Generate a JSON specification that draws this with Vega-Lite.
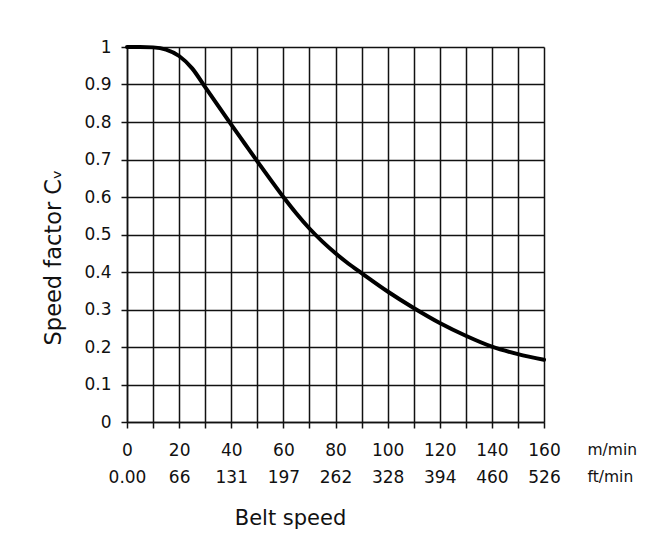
{
  "$schema": "https://vega.github.io/schema/vega-lite/v6.json",
  "autosize": "none",
  "width": 417,
  "height": 375,
  "padding": {"left": 127, "top": 47, "right": 118, "bottom": 124},
  "background": "white",
  "config": {
    "view": {"stroke": null},
    "font": "DejaVu Sans",
    "axis": {"labelFont": "DejaVu Sans", "titleFont": "DejaVu Sans", "labelColor": "#111", "titleColor": "#111"}
  },
  "title": {"text": "Belt speed", "orient": "bottom", "anchor": "middle", "dx": -45, "offset": 22, "fontSize": 21, "fontWeight": "normal", "color": "#111", "font": "DejaVu Sans"},
  "data": {"values": [
    {"speed": 0, "cv": 1.0},
    {"speed": 5, "cv": 1.0},
    {"speed": 10, "cv": 0.999},
    {"speed": 15, "cv": 0.993},
    {"speed": 20, "cv": 0.976},
    {"speed": 25, "cv": 0.943},
    {"speed": 30, "cv": 0.893},
    {"speed": 35, "cv": 0.843},
    {"speed": 40, "cv": 0.793},
    {"speed": 45, "cv": 0.744},
    {"speed": 50, "cv": 0.695},
    {"speed": 55, "cv": 0.647},
    {"speed": 60, "cv": 0.6},
    {"speed": 65, "cv": 0.556},
    {"speed": 70, "cv": 0.516},
    {"speed": 75, "cv": 0.481},
    {"speed": 80, "cv": 0.45},
    {"speed": 85, "cv": 0.422},
    {"speed": 90, "cv": 0.397},
    {"speed": 100, "cv": 0.348},
    {"speed": 110, "cv": 0.304},
    {"speed": 120, "cv": 0.264},
    {"speed": 130, "cv": 0.23},
    {"speed": 140, "cv": 0.201},
    {"speed": 150, "cv": 0.181},
    {"speed": 160, "cv": 0.166}
  ]},
  "mark": {"type": "line", "color": "black", "strokeWidth": 4, "interpolate": "monotone", "strokeCap": "round"},
  "encoding": {
    "x": {
      "field": "speed", "type": "quantitative",
      "scale": {"domain": [0, 160], "nice": false, "zero": false},
      "axis": {
        "values": [0, 10, 20, 30, 40, 50, 60, 70, 80, 90, 100, 110, 120, 130, 140, 150, 160],
        "labelExpr": "datum.value % 20 == 0 ? [datum.value + '', ['0.00','66','131','197','262','328','394','460','526'][datum.value / 20]] : ''",
        "labelFontSize": 17,
        "labelLineHeight": 27.5,
        "labelPadding": 14,
        "labelFlush": false,
        "labelOverlap": false,
        "tickSize": 6,
        "tickColor": "#111",
        "tickWidth": 1.5,
        "domainColor": "#111",
        "domainWidth": 1.5,
        "grid": true,
        "gridColor": "#111",
        "gridWidth": 1.5,
        "gridOpacity": 1,
        "title": ["m/min", "ft/min"],
        "titleFontSize": 15.5,
        "titleFontWeight": "normal",
        "titleLineHeight": 27.5,
        "titleAlign": "left",
        "titleBaseline": "top",
        "titleAnchor": null,
        "titleX": 460,
        "titleY": 20
      }
    },
    "y": {
      "field": "cv", "type": "quantitative",
      "scale": {"domain": [0, 1], "nice": false},
      "axis": {
        "values": [0, 0.1, 0.2, 0.3, 0.4, 0.5, 0.6, 0.7, 0.8, 0.9, 1],
        "format": "~g",
        "labelFontSize": 17,
        "labelPadding": 10,
        "tickSize": 6,
        "tickColor": "#111",
        "tickWidth": 1.5,
        "domainColor": "#111",
        "domainWidth": 1.5,
        "grid": true,
        "gridColor": "#111",
        "gridWidth": 1.5,
        "gridOpacity": 1,
        "title": "Speed factor Cᵥ",
        "titleFontSize": 22.5,
        "titleFontWeight": "normal",
        "titleAngle": -90,
        "titleAlign": "center",
        "titleBaseline": "alphabetic",
        "titleX": -67,
        "titleY": 210
      }
    }
  }
}
